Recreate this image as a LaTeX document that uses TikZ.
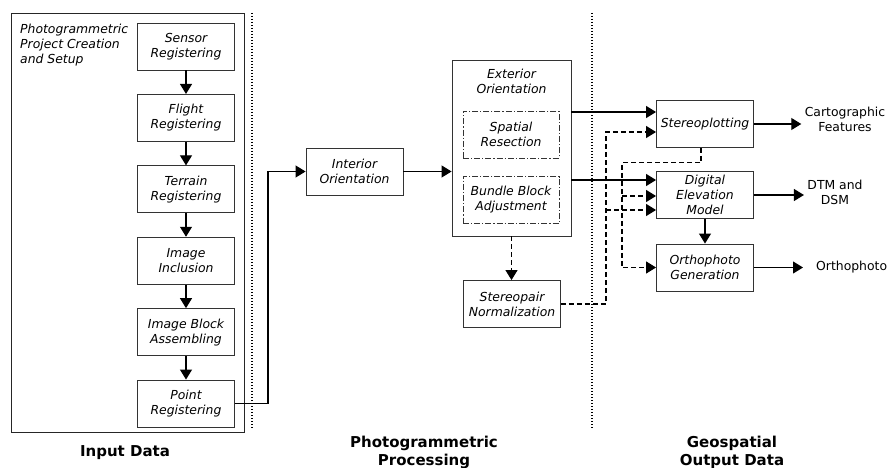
\documentclass[tikz,border=0pt]{standalone}
\usepackage{fontspec}
\setmainfont{DejaVu Sans}
\usetikzlibrary{positioning, arrows.meta, calc}

\begin{document}
\begin{tikzpicture}[x=1pt, y=-1pt,
	font=\fontsize{12.4}{15}\selectfont,
	block/.style={draw=black!80, line width=0.9pt, minimum height=47pt, minimum width=97pt, align=center, inner sep=1pt, font=\fontsize{12.4}{15}\selectfont\itshape},
	subblock/.style={block, dash pattern=on 6pt off 2pt on 1.2pt off 2pt, minimum width=96pt},
	arrow/.style={-{Triangle[length=10pt,width=12pt]}, line width=1.1pt},
	darrow/.style={arrow, dash pattern=on 5pt off 3pt},
	title/.style={font=\fontsize{15}{18}\selectfont\bfseries, align=center}]
	
	\useasboundingbox (0,0) rectangle (889,468);
	
	% Input data
	\node[draw=black!85, line width=0.9pt, minimum width=233pt, minimum height=419pt] (frame) at (127.5,222.5) {};
	\node[anchor=north west, align=left, inner sep=0pt, font=\fontsize{12.4}{15}\selectfont\itshape] (setup) at (20,23.5) {Photogrammetric\\Project Creation\\and Setup};
	\node[block] (sensor) at (186,46.5) {Sensor\\Registering};
	\node[block, below=23.5pt of sensor] (flight) {Flight\\Registering};
	\node[block, below=23.5pt of flight] (terrain) {Terrain\\Registering};
	\node[block, below=23.5pt of terrain] (inclusion) {Image\\Inclusion};
	\node[block, below=23.5pt of inclusion] (assembly) {Image Block\\Assembling};
	\node[block, below=23.5pt of assembly] (point) {Point\\Registering};
	
	\foreach \a/\b in {sensor/flight, flight/terrain, terrain/inclusion, inclusion/assembly, assembly/point}
		\draw[arrow] (\a) -- (\b);
	
	% Photogrammetric processing
	\node[block] (interior) at (354.5,171.5) {Interior\\Orientation};
	\node[draw=black!80, line width=0.9pt, minimum width=119pt, minimum height=176pt] (exterior) at (511.5,148) {};
	\node[align=center, font=\fontsize{12.4}{15}\selectfont\itshape] (extlabel) at (511.5,81) {Exterior\\Orientation};
	\node[subblock] (spatial) at (511,134.5) {Spatial\\Resection};
	\node[subblock] (bundle) at (511,200) {Bundle Block\\Adjustment};
	\node[block] (stereopair) at (512,304) {Stereopair\\Normalization};
	
	\draw[arrow] (point.east) -- ++(33,0) |- (interior.west);
	\draw[arrow] (interior.east) -- (interior.east -| exterior.west);
	\draw[darrow] (exterior.south) -- (exterior.south |- stereopair.north);
	
	% Geospatial output data
	\node[block] (stereo) at (705,124) {Stereoplotting};
	\node[block] (dem) at (705,195) {Digital\\Elevation\\Model};
	\node[block] (ortho) at (705,267.5) {Orthophoto\\Generation};
	
	\node[align=center] (carto) at (845,119.5) {Cartographic\\Features};
	\node[align=center] (dtm) at (835,192) {DTM and\\DSM};
	\node[anchor=west, inner xsep=13pt] (orthotxt) at (803,267) {Orthophoto};
	
	\coordinate (eo_a) at ($(exterior.east)+(0,-36)$);
	\coordinate (eo_b) at ($(exterior.east)+(0,32)$);
	\draw[arrow] (eo_a) -- (eo_a -| stereo.west);
	\draw[arrow] (eo_b) -- (eo_b -| dem.west);
	
	% dashed links
	\coordinate (sp_up) at ($(stereopair.east)+(45,0)$);
	\draw[darrow] (stereopair.east) -- (sp_up) |- ($(stereo.west)+(0,8)$);
	\draw[darrow] ($(sp_up |- dem.west)+(0,15)$) -- ($(dem.west)+(0,15)$);
	\coordinate (st_dn) at ($(stereo.south)+(-4,15)$);
	\coordinate (st_left) at ($(st_dn)+(-79,0)$);
	\draw[darrow] ($(stereo.south)+(-4,0)$) -- (st_dn) -- (st_left) |- (ortho.west);
	\draw[darrow] ($(st_left |- dem.west)+(0,1)$) -- ($(dem.west)+(0,1)$);
	
	\draw[arrow] (dem) -- (ortho);
	\draw[arrow] (stereo.east) -- (stereo.east -| carto.west);
	\draw[arrow] (dem.east) -- (dem.east -| dtm.west);
	\draw[arrow] (ortho.east) -- (ortho.east -| orthotxt.west);
	
	% separators
	\draw[line width=1.2pt, dash pattern=on 1.2pt off 1.8pt] (252,13) -- (252,428);
	\draw[line width=1.2pt, dash pattern=on 1.2pt off 1.8pt] (592,13) -- (592,428);
	
	% titles
	\node[title] (input) at (125,453) {Input Data};
	\node[title] (processing) at (424,452) {Photogrammetric\\Processing};
	\node[title] (output) at (732,452) {Geospatial\\Output Data};
\end{tikzpicture}
\end{document}
